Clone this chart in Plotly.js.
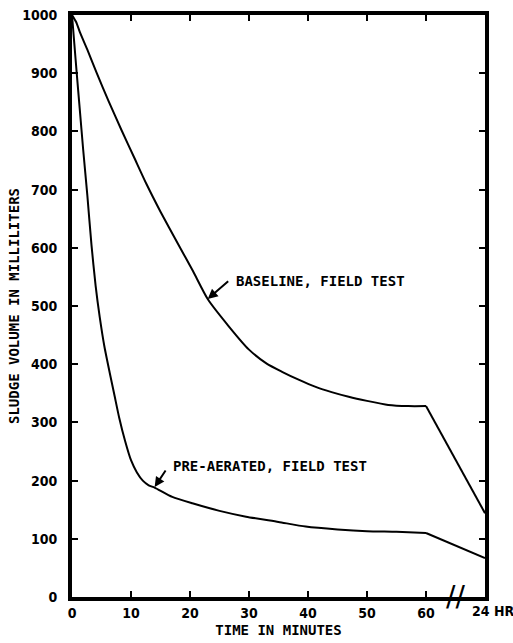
<!DOCTYPE html>
<html>
<head>
<meta charset="utf-8">
<script src="https://cdn.plot.ly/plotly-3.0.1.min.js"></script>
<style>
  html, body { margin: 0; padding: 0; background: #fff; }
  #chart { width: 513px; height: 643px; }
</style>
</head>
<body>
<div id="chart"></div>
<script>
// Baseline, field test (x in minutes; last point = 24 HR, placed after the axis break)
const baselineX = [0, 0.7, 1.35, 2.7, 4.2, 6.2, 8.4, 10.5, 12.6, 15, 18, 20.5, 23, 26.5, 30, 33, 35.6, 38.5, 41.3, 44, 46.9, 50, 53.6, 57, 60, 70];
const baselineY = [1000, 988, 970, 938, 900, 852, 802, 756, 710, 662, 606, 560, 512, 466, 425, 401, 387, 373, 361, 352, 344, 337, 330, 328, 328, 144];

// Pre-aerated, field test
const preX = [0, 0.4, 0.8, 1.3, 1.9, 2.6, 3.3, 4, 4.7, 5.5, 6.4, 7.25, 8, 9, 10, 11, 12, 13, 14, 17, 20.4, 25, 29.5, 35, 39.6, 45, 50, 55, 60, 70];
const preY = [1000, 950, 900, 840, 768, 690, 605, 535, 481, 430, 385, 344, 308, 268, 235, 214, 200, 192, 188, 172, 161, 148, 138, 129, 121, 116, 113, 112, 110, 67];

const xTickVals = [0, 10, 20, 30, 40, 50, 60, 70];
const xTickText = ['0', '10', '20', '30', '40', '50', '60', ''];
const yTickVals = [0, 100, 200, 300, 400, 500, 600, 700, 800, 900, 1000];
const breakX = 65;      // position of the "//" axis break
const hrX = 70;         // position of the 24 HR reading

const monoFont = 'DejaVu Sans Mono, monospace';
const tickFont = 'DejaVu Sans Condensed, DejaVu Sans, sans-serif';

function curveTraces(xs, ys) {
  const n = xs.length;
  return [
    // smooth part: 0 .. 60 minutes
    { x: xs.slice(0, n - 1), y: ys.slice(0, n - 1), mode: 'lines',
      line: { color: '#000', width: 2, shape: 'spline', smoothing: 0.6 }, hoverinfo: 'skip', showlegend: false },
    // straight run from 60 minutes to the 24 HR reading
    { x: xs.slice(n - 2), y: ys.slice(n - 2), mode: 'lines',
      line: { color: '#000', width: 2 }, hoverinfo: 'skip', showlegend: false }
  ];
}

const traces = [].concat(curveTraces(baselineX, baselineY), curveTraces(preX, preY));

const layout = {
  width: 513, height: 643,
  margin: { l: 72, r: 28, t: 15, b: 46 },
  paper_bgcolor: '#fff', plot_bgcolor: '#fff',
  showlegend: false,
  xaxis: {
    range: [0, 70],
    tickvals: xTickVals, ticktext: xTickText,
    ticks: 'inside', ticklen: 6, tickwidth: 2, tickcolor: '#000',
    showline: true, linewidth: 4, linecolor: '#000', mirror: 'ticks',
    showgrid: false, zeroline: false,
    tickfont: { family: tickFont, size: 14, color: '#000', weight: 'bold' },
    title: { text: 'TIME IN MINUTES', font: { family: monoFont, size: 14, color: '#000', weight: 'bold' }, standoff: 6 }
  },
  yaxis: {
    range: [0, 1000],
    tickvals: yTickVals,
    ticks: 'inside', ticklen: 6, tickwidth: 2, tickcolor: '#000',
    showline: true, linewidth: 4, linecolor: '#000', mirror: 'ticks',
    showgrid: false, zeroline: false,
    ticklabelstandoff: 8,
    tickfont: { family: tickFont, size: 14, color: '#000', weight: 'bold' },
    title: { text: 'SLUDGE VOLUME IN MILLILITERS', font: { family: monoFont, size: 14, color: '#000', weight: 'bold' }, standoff: 0 }
  },
  annotations: [
    { x: 23, y: 512, ax: 22, ay: -19, text: '', showarrow: true, arrowhead: 2, arrowsize: 1, arrowwidth: 2, arrowcolor: '#000' },
    { x: 27.5, y: 543, text: 'BASELINE, FIELD TEST', showarrow: false, xanchor: 'left', yanchor: 'middle',
      font: { family: monoFont, size: 14, color: '#000', weight: 'bold' } },
    { x: 14, y: 189, ax: 12, ay: -18, text: '', showarrow: true, arrowhead: 2, arrowsize: 1, arrowwidth: 2, arrowcolor: '#000' },
    { x: 16.8, y: 225, text: 'PRE-AERATED, FIELD TEST', showarrow: false, xanchor: 'left', yanchor: 'middle',
      font: { family: monoFont, size: 14, color: '#000', weight: 'bold' } },
    { x: breakX, y: 0, text: '//', showarrow: false, xanchor: 'center', yanchor: 'middle', yshift: 1,
      font: { family: 'DejaVu Sans, sans-serif', size: 28, color: '#000' } },
    { x: hrX, y: 0, text: '24 HR', showarrow: false, xanchor: 'left', yanchor: 'top', xshift: -15, yshift: -4,
      font: { family: tickFont, size: 14, color: '#000', weight: 'bold' } }
  ]
};

Plotly.newPlot('chart', traces, layout, { staticPlot: true, displayModeBar: false });
</script>
</body>
</html>
